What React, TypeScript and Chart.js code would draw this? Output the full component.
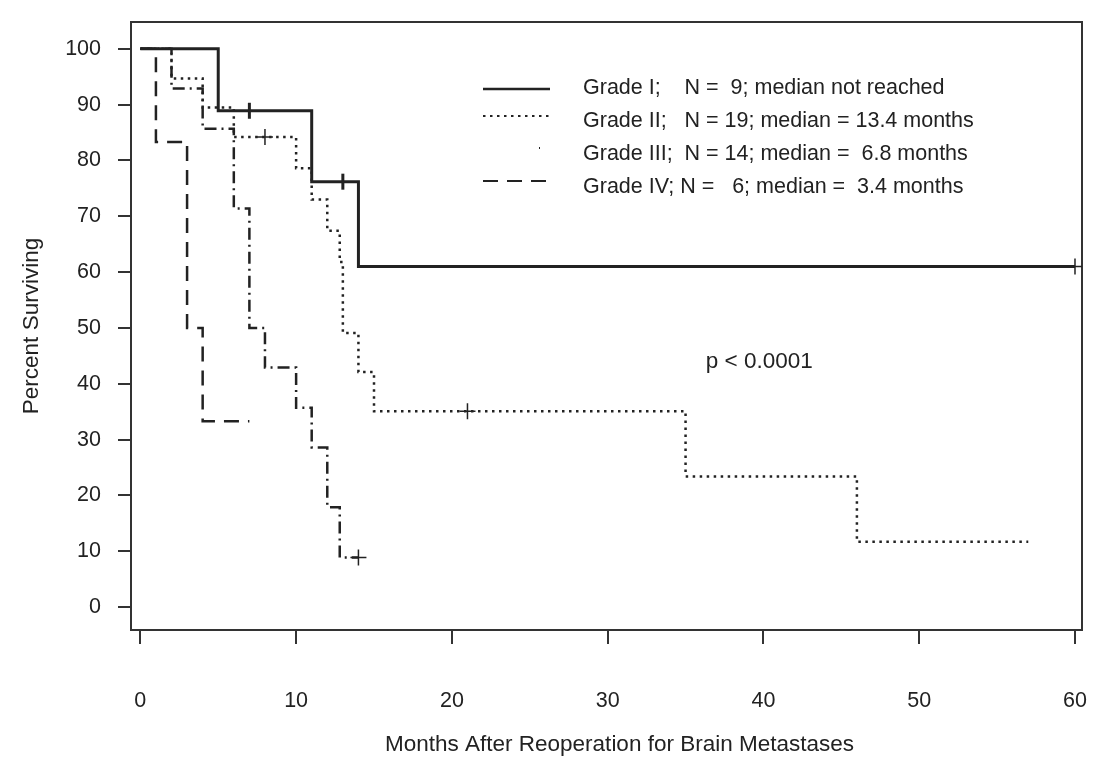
import React, { useEffect, useRef } from "react";
import { Chart, registerables } from "chart.js";

Chart.register(...registerables);

// ---- Data (Kaplan-Meier steps) ----
const gradeIMonths = [0, 5, 11, 14, 60];
const gradeIValues = [100, 88.9, 76.2, 61.0, 61.0];
const gradeITickMonths = [7, 13];
const gradeITickValues = [88.9, 76.2];
const gradeICrossMonths = [60];
const gradeICrossValues = [61.0];

const gradeIIMonths = [0, 2, 4, 6, 10, 11, 12, 12.8, 13, 14, 15, 35, 46, 57];
const gradeIIValues = [100, 94.7, 89.5, 84.2, 78.6, 73.0, 67.4, 61.8, 49.1, 42.1, 35.1, 23.4, 11.7, 11.7];
const gradeIICrossMonths = [8, 21];
const gradeIICrossValues = [84.2, 35.1];

const gradeIIIMonths = [0, 2, 4, 6, 7, 8, 10, 11, 12, 12.8, 14];
const gradeIIIValues = [100, 92.9, 85.7, 71.4, 50.0, 42.9, 35.7, 28.6, 17.9, 8.9, 8.9];
const gradeIIICrossMonths = [14];
const gradeIIICrossValues = [8.9];

const gradeIVMonths = [0, 1, 3, 4, 7];
const gradeIVValues = [100, 83.3, 50.0, 33.3, 33.3];

const legendLabels = [
  "Grade I;    N =  9; median not reached",
  "Grade II;   N = 19; median = 13.4 months",
  "Grade III;  N = 14; median =  6.8 months",
  "Grade IV; N =   6; median =  3.4 months",
];
const pValueText = "p < 0.0001";
const pValueMonth = 36.3;
const pValuePercent = 44;

const xTitle = "Months After Reoperation for Brain Metastases";
const yTitle = "Percent Surviving";

const INK = "#222";
const FONT = "'Liberation Sans', Arial, Helvetica, sans-serif";

const pts = (xs: number[], ys: number[]) => xs.map((x, i) => ({ x, y: ys[i] }));

const dashes: number[][] = [[], [2.5, 4.5], [12, 5, 2, 5], [15, 9]];

const App: React.FC = () => {
  const ref = useRef<HTMLCanvasElement | null>(null);

  useEffect(() => {
    if (!ref.current) return;

    const overlay = {
      id: "overlay",
      beforeDatasetsDraw(chart: any) {
        const { ctx, chartArea } = chart;
        ctx.save();
        ctx.strokeStyle = "#333";
        ctx.lineWidth = 2;
        ctx.strokeRect(chartArea.left, chartArea.top, chartArea.right - chartArea.left, chartArea.bottom - chartArea.top);
        ctx.restore();
      },
      afterDraw(chart: any) {
        const { ctx, chartArea, scales } = chart;
        ctx.save();
        ctx.fillStyle = INK;
        ctx.strokeStyle = INK;
        ctx.font = `21.5px ${FONT}`;
        ctx.textBaseline = "middle";
        const x0 = chartArea.left + 352;
        const x1 = x0 + 67;
        const tx = chartArea.left + 452;
        const sampleOffsets = [1, -5, -6, -6];
        for (let i = 0; i < legendLabels.length; i++) {
          const y = chartArea.top + 66 + i * 33;
          const ly = y + sampleOffsets[i];
          ctx.save();
          if (i === 2) {
            ctx.lineWidth = 2;
            ctx.beginPath();
            ctx.moveTo(x0 + 56, ly);
            ctx.lineTo(x0 + 57, ly);
            ctx.stroke();
          } else {
            ctx.lineWidth = i === 0 ? 2.5 : 2;
            ctx.setLineDash(dashes[i]);
            ctx.beginPath();
            ctx.moveTo(x0, ly);
            ctx.lineTo(x1, ly);
            ctx.stroke();
          }
          ctx.restore();
          ctx.fillText(legendLabels[i], tx, y);
        }
        ctx.textAlign = "left";
        ctx.font = `22.5px ${FONT}`;
        ctx.fillText(pValueText, scales.x.getPixelForValue(pValueMonth), scales.y.getPixelForValue(pValuePercent));
        // x-axis title (slightly right of centre, as in the original)
        ctx.textAlign = "center";
        ctx.fillText(xTitle, (chartArea.left + chartArea.right) / 2 + 13, chartArea.bottom + 115);
        ctx.restore();
      },
    };

    const lineDs = (label: string, xs: number[], ys: number[], dash: number[], width: number) => ({
      type: "line" as const,
      label,
      data: pts(xs, ys),
      borderColor: INK,
      borderWidth: width,
      borderDash: dash,
      stepped: true,
      pointRadius: 0,
      fill: false,
      tension: 0,
    });

    const markDs = (xs: number[], ys: number[], style: string, rotation: number, radius: number, width: number) => ({
      type: "scatter" as const,
      data: pts(xs, ys),
      showLine: false,
      pointStyle: style,
      rotation,
      pointRadius: radius,
      pointBorderWidth: width,
      borderColor: INK,
      backgroundColor: INK,
    });

    const chart = new Chart(ref.current, {
      type: "line",
      data: {
        datasets: [
          lineDs("Grade I", gradeIMonths, gradeIValues, [], 3),
          lineDs("Grade II", gradeIIMonths, gradeIIValues, dashes[1], 2.5),
          lineDs("Grade III", gradeIIIMonths, gradeIIIValues, dashes[2], 2.5),
          lineDs("Grade IV", gradeIVMonths, gradeIVValues, dashes[3], 2.5),
          markDs(gradeITickMonths, gradeITickValues, "line", 90, 8, 3),
          markDs(gradeICrossMonths, gradeICrossValues, "cross", 0, 8, 1.5),
          markDs(gradeIICrossMonths, gradeIICrossValues, "cross", 0, 8, 1.5),
          markDs(gradeIIICrossMonths, gradeIIICrossValues, "cross", 0, 8, 1.5),
        ] as any,
      },
      options: {
        animation: false,
        responsive: false,
        events: [],
        layout: { padding: { left: 0, right: 24, top: 14, bottom: 0 } },
        plugins: {
          legend: { display: false },
          tooltip: { enabled: false },
        },
        scales: {
          x: {
            type: "linear",
            min: -0.6,
            max: 60.45,
            afterFit: (s: any) => {
              s.height = 130;
              s.paddingLeft = 0;
              s.paddingRight = 0;
            },
            border: { display: false },
            grid: { drawOnChartArea: false, drawTicks: true, tickLength: 14, color: "#333", lineWidth: 2 },
            ticks: {
              stepSize: 10,
              includeBounds: false,
              padding: 44,
              color: INK,
              font: { family: FONT, size: 21.5 },
              maxRotation: 0,
            },
            title: { display: false },
          },
          y: {
            type: "linear",
            min: -4.1,
            max: 104.8,
            afterFit: (s: any) => {
              s.width = 123;
              s.paddingTop = 0;
              s.paddingBottom = 0;
            },
            border: { display: false },
            grid: { drawOnChartArea: false, drawTicks: true, tickLength: 13, color: "#333", lineWidth: 2 },
            ticks: {
              stepSize: 10,
              includeBounds: false,
              padding: 17,
              color: INK,
              font: { family: FONT, size: 21.5 },
            },
            title: {
              display: true,
              text: yTitle,
              color: INK,
              font: { family: FONT, size: 22.5 },
              padding: { top: 10, bottom: 0 },
            },
          },
        },
      },
      plugins: [overlay],
    } as any);

    return () => chart.destroy();
  }, []);

  return (
    <div style={{ width: 1098, height: 752 }}>
      <canvas ref={ref} width={1098} height={752} style={{ width: 1098, height: 752, display: "block" }} />
    </div>
  );
};

export default App;
